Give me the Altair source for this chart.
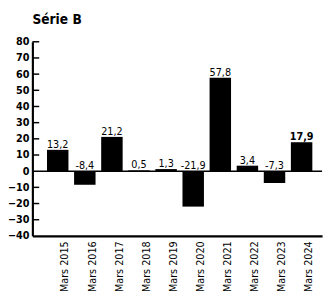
import altair as alt
import pandas as pd

categories = ["Mars 2015", "Mars 2016", "Mars 2017", "Mars 2018", "Mars 2019",
              "Mars 2020", "Mars 2021", "Mars 2022", "Mars 2023", "Mars 2024"]
values = [13.2, -8.4, 21.2, 0.5, 1.3, -21.9, 57.8, 3.4, -7.3, 17.9]
labels = ["13,2", "-8,4", "21,2", "0,5", "1,3", "-21,9", "57,8", "3,4", "-7,3", "17,9"]
bold = [False] * 9 + [True]
ticks = [-40, -30, -20, -10, 0, 10, 20, 30, 40, 50, 60, 70, 80]

FONT = "DejaVu Sans Condensed, Liberation Sans Narrow, sans-serif"

df = pd.DataFrame({"cat": categories, "v": values, "lab": labels, "bold": bold})
df["ly"] = df["v"].clip(lower=0)
tdf = pd.DataFrame({"t": [t for t in ticks if t not in (0, -40)]})

yscale = alt.Scale(domain=[-40, 80], nice=False, zero=False)
xscale = alt.Scale(paddingInner=0.208, paddingOuter=0.449, align=0.6)

xaxis = alt.Axis(title=None, labelAngle=270, ticks=False, domain=True,
                 domainColor="black", domainWidth=2.2, labelFont=FONT,
                 labelFontSize=11, labelColor="black", labelPadding=5,
                 labelAlign="right", labelBaseline="middle",
                 labelOffset=8, labelOverlap=False)
yaxis = alt.Axis(title=None, values=ticks, ticks=False, grid=False,
                 domainColor="black", domainWidth=2.2, labelFont=FONT,
                 labelFontSize=11, labelFontWeight="bold", labelColor="black",
                 labelPadding=3.5, labelOverlap=False, labelFlush=False,
                 labelBound=False)

base = alt.Chart(df)

bars = base.mark_bar(color="black").encode(
    x=alt.X("cat:N", sort=categories, scale=xscale, axis=xaxis),
    y=alt.Y("v:Q", scale=yscale, axis=yaxis),
    y2=alt.datum(0),
)

txt_n = base.transform_filter("!datum.bold").mark_text(
    baseline="bottom", dy=0, font=FONT, fontSize=11, color="black").encode(
    x=alt.X("cat:N", sort=categories, scale=xscale, axis=xaxis),
    y=alt.Y("ly:Q", scale=yscale, axis=yaxis),
    text="lab:N",
)
txt_b = base.transform_filter("datum.bold").mark_text(
    baseline="bottom", dy=0, font=FONT, fontSize=11, fontWeight="bold", color="black").encode(
    x=alt.X("cat:N", sort=categories, scale=xscale, axis=xaxis),
    y=alt.Y("ly:Q", scale=yscale, axis=yaxis),
    text="lab:N",
)

zero = alt.Chart(pd.DataFrame({"z": [0]})).mark_rule(color="black", strokeWidth=1.5).encode(
    y=alt.Y("z:Q", scale=yscale, axis=yaxis)
)

tickrules = alt.Chart(tdf).mark_rule(color="black", strokeWidth=1.5).encode(
    y=alt.Y("t:Q", scale=yscale, axis=yaxis), x=alt.value(0), x2=alt.value(7)
)

chart = alt.layer(bars, zero, tickrules, txt_n, txt_b).properties(
    width=297, height=199,
    autosize=alt.AutoSizeParams(type="none"),
    padding={"left": 25, "top": 31, "right": 3, "bottom": 58},
    title=alt.TitleParams("Série B", anchor="start", frame="group", dx=0, font=FONT,
                          fontSize=14, fontWeight="bold", color="black", offset=9),
).configure_view(stroke=None).configure_axis(grid=False)

chart.save("out.html", embed_options={"renderer": "svg", "actions": False})
